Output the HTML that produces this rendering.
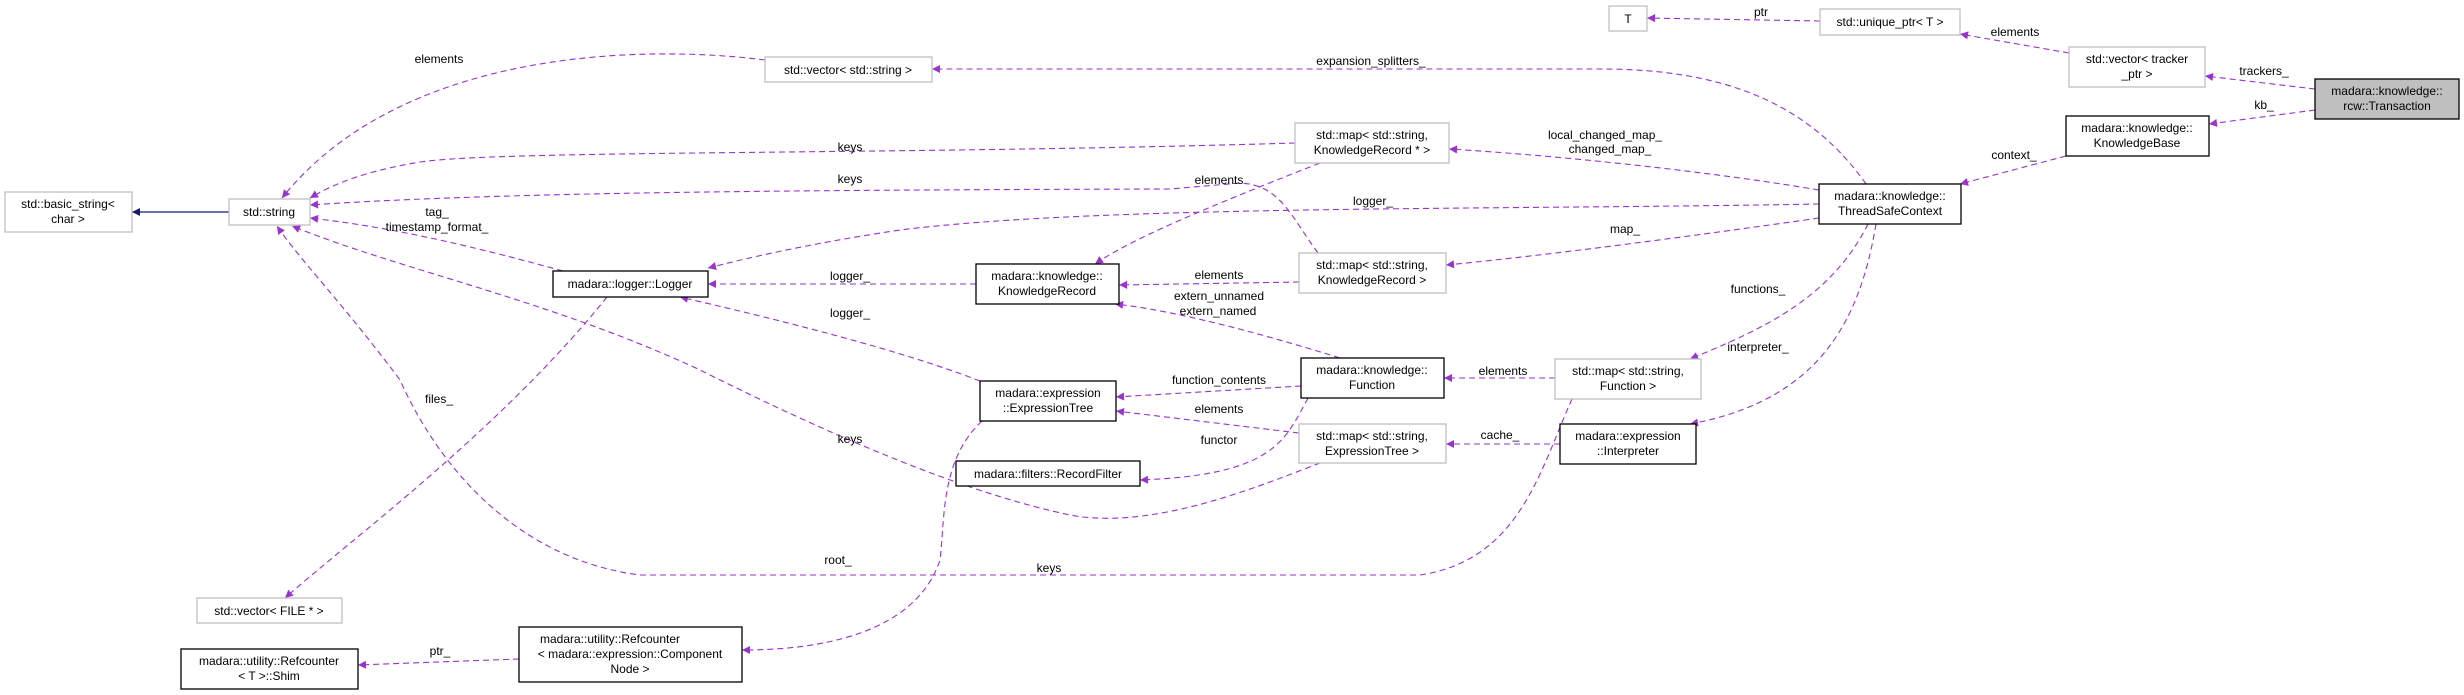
<!DOCTYPE html>
<html><head><meta charset="utf-8"><style>
html,body{margin:0;padding:0;background:#fff;}
svg{display:block;}
text{font-family:"Liberation Sans",sans-serif;font-size:12px;fill:#000;}
.g{fill:#fff;stroke:#bfbfbf;stroke-width:1.3;}
.b{fill:#fff;stroke:#000;stroke-width:1.3;}
.e{fill:none;stroke:#9a32cd;stroke-width:1.1;stroke-dasharray:6,4;}
</style></head><body>
<svg width="2464" height="695" viewBox="0 0 2464 695" xmlns="http://www.w3.org/2000/svg">
<defs>
<marker id="a" viewBox="0 0 10 10" refX="10" refY="5" markerWidth="10" markerHeight="8" markerUnits="userSpaceOnUse" orient="auto"><path d="M0,0 L10,5 L0,10 z" fill="#9a32cd"/></marker>
<marker id="bl" viewBox="0 0 10 10" refX="10" refY="5" markerWidth="10" markerHeight="8" markerUnits="userSpaceOnUse" orient="auto"><path d="M0,0 L10,5 L0,10 z" fill="#191970"/></marker>
</defs>

<path d="M229,212 L132,212" stroke="#191970" stroke-width="1.3" fill="none" marker-end="url(#bl)"/>
<path class="e" d="M765,60 C 640,44 400,50 282,198" marker-end="url(#a)"/>
<path class="e" d="M1295,143 C 900,155 500,150 420,162 C 360,172 330,186 310,198" marker-end="url(#a)"/>
<path class="e" d="M1318,253 C 1290,215 1280,185 1240,183 L1170,189 C 800,190 500,192 310,205" marker-end="url(#a)"/>
<path class="e" d="M563,271 C 450,240 380,226 310,218" marker-end="url(#a)"/>
<path class="e" d="M1572,399 C 1540,470 1520,560 1420,575 L640,575 C 520,560 440,470 400,380 C 340,300 300,260 277,226" marker-end="url(#a)"/>
<path class="e" d="M1320,463 C 1250,490 1150,530 1070,515 C 950,490 800,420 700,370 C 550,300 400,270 292,226" marker-end="url(#a)"/>
<path class="e" d="M1819,204 C 1500,210 1100,205 900,230 C 800,245 740,260 708,268" marker-end="url(#a)"/>
<path class="e" d="M976,284 L708,284" marker-end="url(#a)"/>
<path class="e" d="M980,381 C 900,350 780,320 680,297" marker-end="url(#a)"/>
<path class="e" d="M607,297 C 500,430 350,540 285,598" marker-end="url(#a)"/>
<path class="e" d="M982,421 C 940,460 945,520 940,560 C 920,620 850,650 742,650" marker-end="url(#a)"/>
<path class="e" d="M519,659 L358,665" marker-end="url(#a)"/>
<path class="e" d="M1320,163 C 1200,210 1130,240 1095,264" marker-end="url(#a)"/>
<path class="e" d="M1299,282 L1119,285" marker-end="url(#a)"/>
<path class="e" d="M1340,358 C 1250,330 1170,310 1115,304" marker-end="url(#a)"/>
<path class="e" d="M1301,386 L1116,397" marker-end="url(#a)"/>
<path class="e" d="M1299,433 L1116,411" marker-end="url(#a)"/>
<path class="e" d="M1308,398 C 1285,440 1275,475 1140,480" marker-end="url(#a)"/>
<path class="e" d="M1555,378 L1444,378" marker-end="url(#a)"/>
<path class="e" d="M1560,444 L1446,444" marker-end="url(#a)"/>
<path class="e" d="M1868,224 C 1830,300 1760,330 1690,359" marker-end="url(#a)"/>
<path class="e" d="M1876,224 C 1860,320 1820,400 1690,424" marker-end="url(#a)"/>
<path class="e" d="M1819,190 C 1700,170 1550,155 1449,149" marker-end="url(#a)"/>
<path class="e" d="M1819,218 C 1700,235 1550,255 1446,265" marker-end="url(#a)"/>
<path class="e" d="M1866,184 C 1800,90 1700,69 1600,69 L932,69" marker-end="url(#a)"/>
<path class="e" d="M2066,156 L1960,184" marker-end="url(#a)"/>
<path class="e" d="M2315,110 L2209,124" marker-end="url(#a)"/>
<path class="e" d="M2315,89 L2205,76" marker-end="url(#a)"/>
<path class="e" d="M2069,53 L1960,34" marker-end="url(#a)"/>
<path class="e" d="M1820,21 L1647,18" marker-end="url(#a)"/>

<g text-anchor="middle">
<text x="439" y="63">elements</text>
<text x="437" y="216">tag_</text>
<text x="437" y="231">timestamp_format_</text>
<text x="1371" y="65">expansion_splitters_</text>
<text x="850" y="151">keys</text>
<text x="850" y="183">keys</text>
<text x="1219" y="184">elements</text>
<text x="1373" y="205">logger_</text>
<text x="1625" y="233">map_</text>
<text x="1605" y="139">local_changed_map_</text>
<text x="1610" y="153">changed_map_</text>
<text x="1219" y="279">elements</text>
<text x="1219" y="300">extern_unnamed</text>
<text x="1218" y="315">extern_named</text>
<text x="850" y="280">logger_</text>
<text x="850" y="317">logger_</text>
<text x="1761" y="16">ptr</text>
<text x="2015" y="36">elements</text>
<text x="2264" y="75">trackers_</text>
<text x="2264" y="109">kb_</text>
<text x="2014" y="159">context_</text>
<text x="1758" y="293">functions_</text>
<text x="1758" y="351">interpreter_</text>
<text x="440" y="655">ptr_</text>
<text x="439" y="403">files_</text>
<text x="1219" y="384">function_contents</text>
<text x="1219" y="413">elements</text>
<text x="1219" y="444">functor</text>
<text x="850" y="443">keys</text>
<text x="838" y="564">root_</text>
<text x="1049" y="572">keys</text>
<text x="1503" y="375">elements</text>
<text x="1500" y="439">cache_</text>
</g>

<g text-anchor="middle">
<rect class="g" x="5" y="192" width="127" height="40"/>
<text x="68" y="208">std::basic_string&lt;</text><text x="68" y="223">char &gt;</text>
<rect class="g" x="229" y="199" width="81" height="26"/>
<text x="269" y="216">std::string</text>
<rect class="b" x="553" y="271" width="155" height="26"/>
<text x="630" y="288">madara::logger::Logger</text>
<rect class="g" x="765" y="57" width="167" height="25"/>
<text x="848" y="74">std::vector&lt; std::string &gt;</text>
<rect class="g" x="1609" y="6" width="38" height="25"/>
<text x="1628" y="23">T</text>
<rect class="g" x="1295" y="123" width="154" height="40"/>
<text x="1372" y="139">std::map&lt; std::string,</text><text x="1372" y="154">KnowledgeRecord * &gt;</text>
<rect class="b" x="976" y="264" width="143" height="40"/>
<text x="1047" y="280">madara::knowledge::</text><text x="1047" y="295">KnowledgeRecord</text>
<rect class="g" x="1299" y="253" width="147" height="40"/>
<text x="1372" y="269">std::map&lt; std::string,</text><text x="1372" y="284">KnowledgeRecord &gt;</text>
<rect class="g" x="1820" y="9" width="140" height="26"/>
<text x="1890" y="26">std::unique_ptr&lt; T &gt;</text>
<rect class="g" x="2069" y="47" width="136" height="40"/>
<text x="2137" y="63">std::vector&lt; tracker</text><text x="2137" y="78">_ptr &gt;</text>
<rect x="2315" y="79" width="144" height="40" fill="#bfbfbf" stroke="#000" stroke-width="1.3"/>
<text x="2387" y="95">madara::knowledge::</text><text x="2387" y="110">rcw::Transaction</text>
<rect class="b" x="2066" y="116" width="143" height="40"/>
<text x="2137" y="132">madara::knowledge::</text><text x="2137" y="147">KnowledgeBase</text>
<rect class="b" x="1819" y="184" width="142" height="40"/>
<text x="1890" y="200">madara::knowledge::</text><text x="1890" y="215">ThreadSafeContext</text>
<rect class="g" x="197" y="598" width="145" height="25"/>
<text x="269" y="615">std::vector&lt; FILE * &gt;</text>
<rect class="b" x="181" y="649" width="177" height="40"/>
<text x="269" y="665">madara::utility::Refcounter</text><text x="269" y="680">&lt; T &gt;::Shim</text>
<rect class="b" x="519" y="627" width="223" height="55"/>
<text x="610" y="643">madara::utility::Refcounter</text>
<text x="630" y="658">&lt; madara::expression::Component</text>
<text x="630" y="673">Node &gt;</text>
<rect class="b" x="980" y="381" width="136" height="40"/>
<text x="1048" y="397">madara::expression</text><text x="1048" y="412">::ExpressionTree</text>
<rect class="b" x="1301" y="358" width="143" height="40"/>
<text x="1372" y="374">madara::knowledge::</text><text x="1372" y="389">Function</text>
<rect class="g" x="1299" y="424" width="147" height="39"/>
<text x="1372" y="440">std::map&lt; std::string,</text><text x="1372" y="455">ExpressionTree &gt;</text>
<rect class="b" x="956" y="461" width="184" height="25"/>
<text x="1048" y="478">madara::filters::RecordFilter</text>
<rect class="g" x="1555" y="359" width="146" height="40"/>
<text x="1628" y="375">std::map&lt; std::string,</text><text x="1628" y="390">Function &gt;</text>
<rect class="b" x="1560" y="424" width="136" height="40"/>
<text x="1628" y="440">madara::expression</text><text x="1628" y="455">::Interpreter</text>
</g>
</svg>
</body></html>
